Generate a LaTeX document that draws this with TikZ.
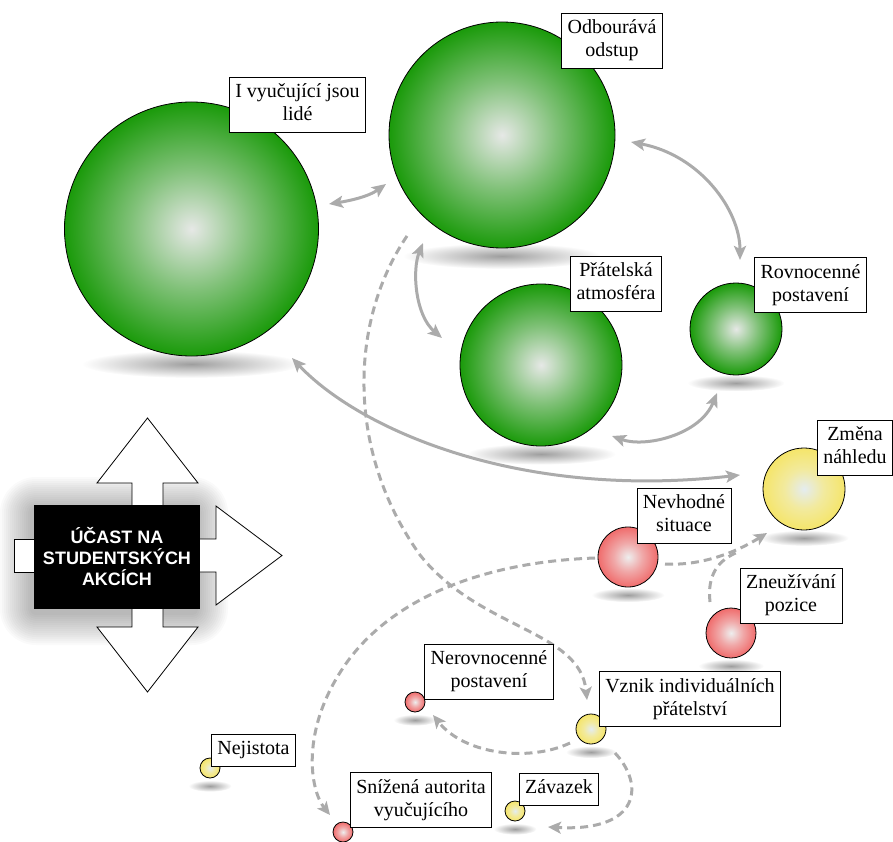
\documentclass[tikz,border=0pt]{standalone}
\usepackage{fontspec}
\setmainfont{Liberation Serif}
\newfontfamily\labserif{Liberation Serif}
\newfontfamily\headsans{Liberation Sans}
\usetikzlibrary{arrows.meta,fadings,shadings}

% sphere colours
\definecolor{gEdge}{HTML}{1A9A0A}
\definecolor{gMid}{HTML}{80C178}
\definecolor{gCore}{HTML}{E6E8E6}
\definecolor{yEdge}{HTML}{F5E56A}
\definecolor{yMid}{HTML}{F2EA9E}
\definecolor{yCore}{HTML}{E4ECF0}
\definecolor{rEdge}{HTML}{F06C6C}
\definecolor{rMid}{HTML}{F0A8A8}
\definecolor{rCore}{HTML}{EEEEEE}
\definecolor{linkgray}{HTML}{ABABAB}

\pgfdeclareradialshading{greenball}{\pgfpoint{0bp}{0bp}}{color(0bp)=(gCore); color(12bp)=(gMid); color(25bp)=(gEdge); color(50bp)=(gEdge)}
\pgfdeclareradialshading{yellowball}{\pgfpoint{0bp}{0bp}}{color(0bp)=(yCore); color(12bp)=(yMid); color(25bp)=(yEdge); color(50bp)=(yEdge)}
\pgfdeclareradialshading{redball}{\pgfpoint{0bp}{0bp}}{color(0bp)=(rCore); color(12bp)=(rMid); color(25bp)=(rEdge); color(50bp)=(rEdge)}

\tikzfading[name=softshade, inner color=transparent!0, outer color=transparent!100]

\tikzset{
  ball/.style={circle, draw=black, line width=0.8pt, inner sep=0pt},
  lab/.style={draw=black, line width=0.8pt, fill=white, align=center,
              inner xsep=6pt, inner ysep=4.5pt, font=\labserif\fontsize{20}{23}\selectfont},
  link/.style={draw=linkgray, line width=3pt},
  twoway/.style={link, {Stealth[length=14pt,width=12pt,inset=3pt]}-{Stealth[length=14pt,width=12pt,inset=3pt]}},
  dashlink/.style={link, dash pattern=on 8pt off 5pt},
  dashway/.style={dashlink, -{Stealth[length=13pt,width=12pt,inset=3pt]}},
  blockarrow/.style={draw=black, line width=0.8pt, fill=white},
}

% sphere with its soft floor shadow: name, x, y, radius, shading
\newcommand\mkball[5]{%
  \fill[black!38, path fading=softshade] (#2,#3+#4+8) ellipse ({0.75*#4+14} and {0.07*#4+5});
  \node[ball, shading=#5, minimum size=#4*2pt] (#1) at (#2,#3) {};
}

\begin{document}
\begin{tikzpicture}[x=1pt,y=-1pt]
\useasboundingbox (0,0) rectangle (893,842);

% ---- spheres ----
\mkball{sA}{191.5}{229}{127}{greenball}
\mkball{sB}{502}{135}{113}{greenball}
\mkball{sC}{541}{365}{81}{greenball}
\mkball{sD}{736}{329}{46}{greenball}
\mkball{sE}{804}{489}{41}{yellowball}
\mkball{sF}{628}{557}{30}{redball}
\mkball{sG}{731}{633}{25}{redball}
\mkball{sH}{415}{702}{10}{redball}
\mkball{sI}{591}{729}{15}{yellowball}
\mkball{sJ}{210}{768}{10}{yellowball}
\mkball{sK}{343}{832}{10}{redball}
\mkball{sL}{515}{811}{10}{yellowball}

% ---- central block: soft halo, four arrows, black box ----
\foreach \k in {1,...,16}{
  \fill[black, opacity=0.02, rounded corners=2*\k pt+4pt]
    (32-2*\k, 509-2*\k) rectangle (196+2*\k, 613+2*\k);
}
\draw[blockarrow] (132,510) -- (132,483) -- (97,483) -- (147.5,418) -- (198,483) -- (163,483) -- (163,510) -- cycle;
\draw[blockarrow] (132,604) -- (132,627) -- (97,627) -- (147.5,692) -- (198,627) -- (163,627) -- (163,604) -- cycle;
\draw[blockarrow] (195,539) -- (216,539) -- (216,506) -- (282,555.5) -- (216,605) -- (216,572) -- (195,572) -- cycle;
\draw[blockarrow] (40,539) -- (14,539) -- (14,572) -- (40,572) -- cycle;
\node[fill=black, text=white, minimum width=166pt, minimum height=104pt, inner sep=0pt,
      align=center, font=\headsans\bfseries\fontsize{18}{21}\selectfont]
  (core) at (117,557) {ÚČAST NA\\STUDENTSKÝCH\\AKCÍCH};

% ---- connector end points ----
\coordinate (pA1) at (329,204);   \coordinate (pB1) at (386,184);
\coordinate (pB2) at (423,243);   \coordinate (pC2) at (442,338);
\coordinate (pB3) at (631,142);   \coordinate (pD3) at (740,260);
\coordinate (pC4) at (612,436);   \coordinate (pD4) at (717,393);
\coordinate (pA5) at (292,358);   \coordinate (pE5) at (740,475);
\coordinate (pB6) at (407,236);   \coordinate (pI6) at (587,700);
\coordinate (pF7) at (665,564);   \coordinate (pE7) at (767,533);
\coordinate (pG7) at (710,602);   \coordinate (pM7) at (738,552);
\coordinate (pF8) at (595,558);   \coordinate (pK8) at (330,815);
\coordinate (pI9) at (570,743);   \coordinate (pH9) at (433,715);
\coordinate (pI10) at (615,753);  \coordinate (pL10) at (548,827);

% ---- solid two-way links between the green spheres ----
\draw[twoway] (pA1) .. controls (348,201) and (368,197) .. (pB1);
\draw[twoway] (pB2) .. controls (412,270) and (415,315) .. (pC2);
\draw[twoway] (pB3) .. controls (700,155) and (740,210) .. (pD3);
\draw[twoway] (pC4) .. controls (645,448) and (700,435) .. (pD4);
\draw[twoway] (pA5) .. controls (360,430) and (520,500) .. (pE5);

% ---- dashed influences ----
\draw[dashway] (pB6) .. controls (350,320) and (345,450) .. (420,555) .. controls (480,630) and (580,630) .. (pI6);
\draw[dashway] (pF7) .. controls (700,566) and (735,553) .. (pE7);
\draw[dashlink] (pG7) .. controls (707,575) and (718,560) .. (pM7);
\draw[dashway] (pF8) .. controls (480,562) and (390,600) .. (345,665) .. controls (300,730) and (310,790) .. (pK8);
\draw[dashway] (pI9) .. controls (530,762) and (465,755) .. (pH9);
\draw[dashway] (pI10) .. controls (645,785) and (640,832) .. (pL10);

% ---- labels ----
\node[lab] (lA) at (297.5,104.5) {\strut I vyučující jsou\\\strut lidé};
\node[lab] (lB) at (612,40.5) {\strut Odbourává\\\strut odstup};
\node[lab] (lC) at (616,283.5) {\strut Přátelská\\\strut atmosféra};
\node[lab] (lD) at (810.5,285) {\strut Rovnocenné\\\strut postavení};
\node[lab] (lE) at (855,447.5) {\strut Změna\\\strut náhledu};
\node[lab] (lF) at (684,515.5) {\strut Nevhodné\\\strut situace};
\node[lab] (lG) at (791,595.5) {\strut Zneužívání\\\strut pozice};
\node[lab] (lH) at (489,671.5) {\strut Nerovnocenné\\\strut postavení};
\node[lab] (lI) at (690,699) {\strut Vznik individuálních\\\strut přátelství};
\node[lab] (lJ) at (253.5,750) {\strut Nejistota};
\node[lab] (lK) at (421,800) {\strut Snížená autorita\\\strut vyučujícího};
\node[lab] (lL) at (559,789) {\strut Závazek};
\end{tikzpicture}
\end{document}
